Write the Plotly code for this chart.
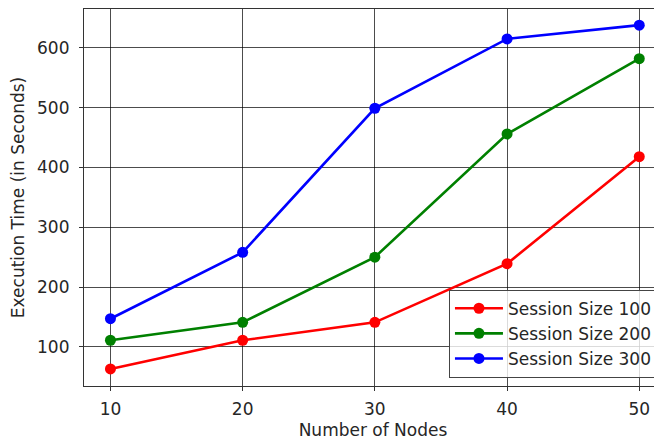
import plotly.graph_objects as go

nodes = [10, 20, 30, 40, 50]
size_100 = [63, 111, 141, 239, 418]
size_200 = [111, 141, 250, 456, 582]
size_300 = [147, 258, 499, 615, 638]
series_names = ["Session Size 100", "Session Size 200", "Session Size 300"]
colors = ["#ff0000", "#008000", "#0000ff"]
y_ticks = [100, 200, 300, 400, 500, 600]

FONT = "DejaVu Sans"
FS = 17
fig = go.Figure()
for name, vals, c in zip(series_names, [size_100, size_200, size_300], colors):
    fig.add_trace(go.Scatter(
        x=nodes, y=vals, name=name, mode="lines+markers",
        line=dict(color=c, width=2.6),
        marker=dict(color=c, size=11),
    ))

axis_common = dict(
    showgrid=True, gridcolor="rgba(0,0,0,0.7)", gridwidth=1,
    showline=True, linecolor="#333", linewidth=1.2,
    ticks="outside", ticklen=4, tickwidth=1, tickcolor="#333",
    tickfont=dict(family=FONT, size=FS, color="#262626"),
    zeroline=False,
)

# page body has an 8px margin, so the figure is sized / offset to compensate
fig.update_layout(
    width=654, height=437,
    margin=dict(l=76, r=0, t=1, b=59, pad=0),
    paper_bgcolor="white", plot_bgcolor="white",
    font=dict(family=FONT, color="#262626"),
    showlegend=True,
    legend=dict(
        x=0.993, y=0.022, xanchor="right", yanchor="bottom",
        bgcolor="rgba(255,255,255,0.8)", bordercolor="#444", borderwidth=1,
        font=dict(family=FONT, size=FS, color="#262626"),
        tracegroupgap=0, itemwidth=48,
    ),
    xaxis=dict(
        range=[8, 51.72], tickvals=nodes, ticktext=[str(n) for n in nodes],
        mirror=True, ticklabelstandoff=3,
        title=dict(text="Number of Nodes", font=dict(family=FONT, size=FS), standoff=6),
        **axis_common,
    ),
    yaxis=dict(
        range=[34.5, 665], tickvals=y_ticks,
        ticklabelstandoff=6,
        title=dict(text="Execution Time (in Seconds)", font=dict(family=FONT, size=FS), standoff=10),
        **axis_common,
    ),
)

fig.write_html("out.html")
